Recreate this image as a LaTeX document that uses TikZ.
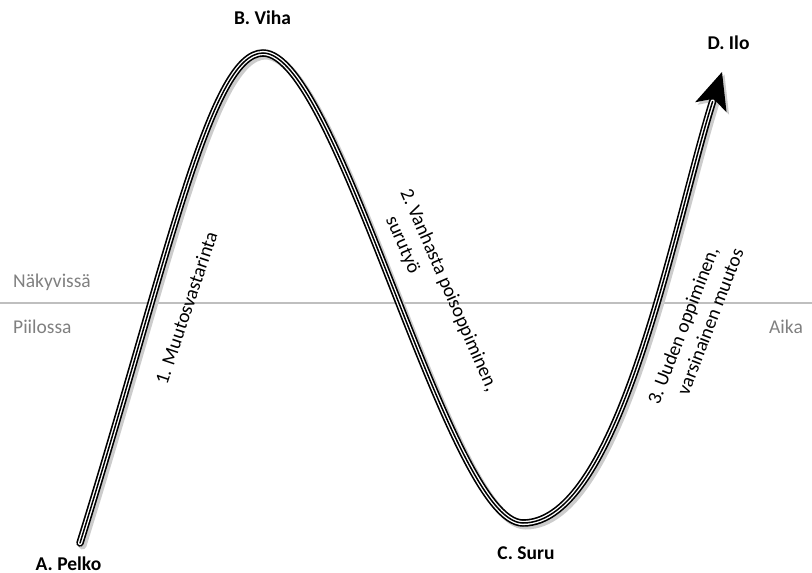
\documentclass[tikz,border=0pt]{standalone}
\usepackage{fontspec}
\setmainfont{Carlito}
\usetikzlibrary{arrows.meta}
\definecolor{axisgray}{RGB}{191,191,191}
\definecolor{labelgray}{RGB}{128,128,128}
\tikzset{
  stage/.style={font=\fontsize{19.5}{24}\selectfont\bfseries, inner sep=0pt},
  phase/.style={font=\fontsize{19.5}{24}\selectfont, inner sep=0pt, anchor=base west},
  side/.style={font=\fontsize{19.5}{24}\selectfont, text=labelgray, inner sep=0pt},
  bigtip/.tip={Stealth[length=37pt, width=33pt, inset=9pt, line width=0pt]},
}

\begin{document}
\begin{tikzpicture}[x=1pt, y=-1pt]
  \useasboundingbox (0,0) rectangle (812,573);
  % visible / hidden boundary
  \coordinate (left) at (0,303);
  \coordinate (right) at (812,303);
  \draw[axisgray, line width=1.2pt] (left) -- (right);
  \node[side, anchor=base west] (visible) at (13,287) {Näkyvissä};
  \node[side, anchor=base west] (hidden) at (13,333) {Piilossa};
  \node[side, anchor=base west] (time) at (769,333) {Aika};

  % turning points of the curve
  \coordinate (pelko) at (80,543);
  \coordinate (viha) at (263,53);
  \coordinate (suru) at (523,523);
  \coordinate (ilo) at (722,72);

  % shadow
  \begin{scope}[transform canvas={shift={(2.5pt,-2.5pt)}}]
    \draw[black!20, line width=8pt, line cap=round, -bigtip]
      (pelko) .. controls (168,260) and (210,53) .. (viha)
      .. controls (338,53) and (448,523) .. (suru)
      .. controls (620,523) and (675,220) .. (ilo);
  \end{scope}

  % triple line with arrow
  \draw[black, line width=7.5pt, line cap=round, -bigtip]
    (pelko) .. controls (168,260) and (210,53) .. (viha)
    .. controls (338,53) and (448,523) .. (suru)
    .. controls (620,523) and (675,220) .. (ilo);
  \foreach \lw/\col in {4.2/white, 1.5/black}
    \draw[\col, line width=\lw pt, line cap=round, shorten >=31pt]
      (pelko) .. controls (168,260) and (210,53) .. (viha)
      .. controls (338,53) and (448,523) .. (suru)
      .. controls (620,523) and (675,220) .. (ilo);

  % stages
  \node[stage] (stageA) at (68.5,564) {A. Pelko};
  \node[stage] (stageB) at (262.5,18) {B. Viha};
  \node[stage] (stageC) at (526,553) {C. Suru};
  \node[stage] (stageD) at (728.5,43) {D. Ilo};

  % phases
  \node[phase, rotate=71.5] (phase1) at (167,386) {1. Muutosvastarinta};
  \node[phase, rotate=-66.5] (phase2) at (400,192)
    {\begin{tabular}[t]{@{}l@{\ }l@{}}2. & Vanhasta poisoppiminen,\\ & surutyö\end{tabular}};
  \node[phase, rotate=69] (phase3) at (659,406)
    {\begin{tabular}[t]{@{}l@{\ }l@{}}3. & Uuden oppiminen,\\ & varsinainen muutos\end{tabular}};
\end{tikzpicture}
\end{document}
